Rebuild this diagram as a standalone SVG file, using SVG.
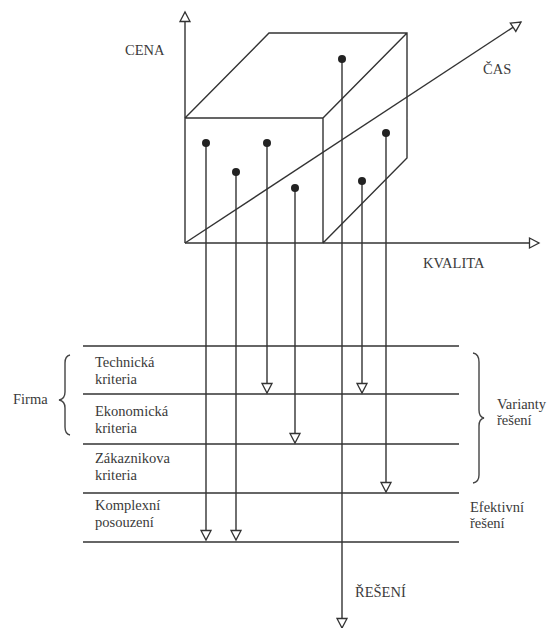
<svg xmlns="http://www.w3.org/2000/svg" width="555" height="628" viewBox="0 0 555 628">
<defs>
<style>
.ln{stroke:#333;stroke-width:1.4;fill:none}
.row{stroke:#333;stroke-width:1.6;fill:none}
.dot{fill:#222}
.t{font-family:"Liberation Serif","Times New Roman",serif;font-size:14.5px;fill:#3a3a3a}
.br{stroke:#444;stroke-width:1.4;fill:none}
</style>
<marker id="ah" markerUnits="userSpaceOnUse" markerWidth="14" markerHeight="14" viewBox="-2 -2 14 14" refX="10" refY="5" orient="auto">
<path d="M0.5,0 L10,5 L0.5,10 Z" fill="#fff" stroke="#333" stroke-width="1.3"/>
</marker>
</defs>
<rect width="555" height="628" fill="#fff"/>

<g id="axes">
<line class="ln" x1="185" y1="243" x2="185" y2="12" marker-end="url(#ah)"/>
<line class="ln" x1="185" y1="243" x2="539" y2="243" marker-end="url(#ah)"/>
<line class="ln" x1="185" y1="243" x2="521" y2="22" marker-end="url(#ah)"/>
<text class="t" x="125" y="55">CENA</text>
<text class="t" x="483" y="74">ČAS</text>
<text class="t" x="423" y="268">KVALITA</text>
</g>

<g id="cube">
<path class="ln" d="M185,118 L323,118 L323,243 M185,118 L269,33 L407,33 L407,158 L323,243 M323,118 L407,33"/>
</g>

<g id="rows">
<line class="row" x1="83" y1="346" x2="459" y2="346"/>
<line class="row" x1="83" y1="394" x2="459" y2="394"/>
<line class="row" x1="83" y1="444" x2="459" y2="444"/>
<line class="row" x1="83" y1="493" x2="459" y2="493"/>
<line class="row" x1="83" y1="542" x2="459" y2="542"/>
</g>

<g id="technicka">
<text class="t" x="95" y="367">Technická</text>
<text class="t" x="95" y="384">kriteria</text>
</g>
<g id="ekonomicka">
<text class="t" x="95" y="416">Ekonomická</text>
<text class="t" x="95" y="433">kriteria</text>
</g>
<g id="zakaznikova">
<text class="t" x="95" y="463">Zákaznikova</text>
<text class="t" x="95" y="480">kriteria</text>
</g>
<g id="komplexni">
<text class="t" x="95" y="510">Komplexní</text>
<text class="t" x="95" y="527">posouzení</text>
</g>

<g id="firma">
<path class="br" d="M70,355 Q65,356 65,363 L65,392 Q65,399 59,400 Q65,401 65,408 L65,427 Q65,434 70,435"/>
<text class="t" x="13" y="404">Firma</text>
</g>

<g id="varianty">
<path class="br" d="M473,353 Q479,354 479,362 L479,410 Q479,417 484,418 Q479,419 479,426 L479,475 Q479,482 473,483"/>
<text class="t" x="497" y="409">Varianty</text>
<text class="t" x="497" y="425">řešení</text>
</g>

<g id="efektivni">
<text class="t" x="470" y="512">Efektivní</text>
<text class="t" x="470" y="528">řešení</text>
</g>

<g id="reseni">
<text class="t" x="355" y="597">ŘEŠENÍ</text>
</g>

<g id="connectors">
<line class="ln" x1="206" y1="143" x2="206" y2="540" marker-end="url(#ah)"/>
<line class="ln" x1="236" y1="172" x2="236" y2="540" marker-end="url(#ah)"/>
<line class="ln" x1="267" y1="143" x2="267" y2="393" marker-end="url(#ah)"/>
<line class="ln" x1="295" y1="188" x2="295" y2="443" marker-end="url(#ah)"/>
<line class="ln" x1="342" y1="59" x2="342" y2="628" marker-end="url(#ah)"/>
<line class="ln" x1="362" y1="181" x2="362" y2="393" marker-end="url(#ah)"/>
<line class="ln" x1="386" y1="133" x2="386" y2="492" marker-end="url(#ah)"/>
</g>

<g id="dots">
<circle class="dot" cx="206" cy="143" r="4"/>
<circle class="dot" cx="236" cy="172" r="4"/>
<circle class="dot" cx="267" cy="143" r="4"/>
<circle class="dot" cx="295" cy="188" r="4"/>
<circle class="dot" cx="342" cy="59" r="4"/>
<circle class="dot" cx="362" cy="181" r="4"/>
<circle class="dot" cx="386" cy="133" r="4"/>
</g>
</svg>
